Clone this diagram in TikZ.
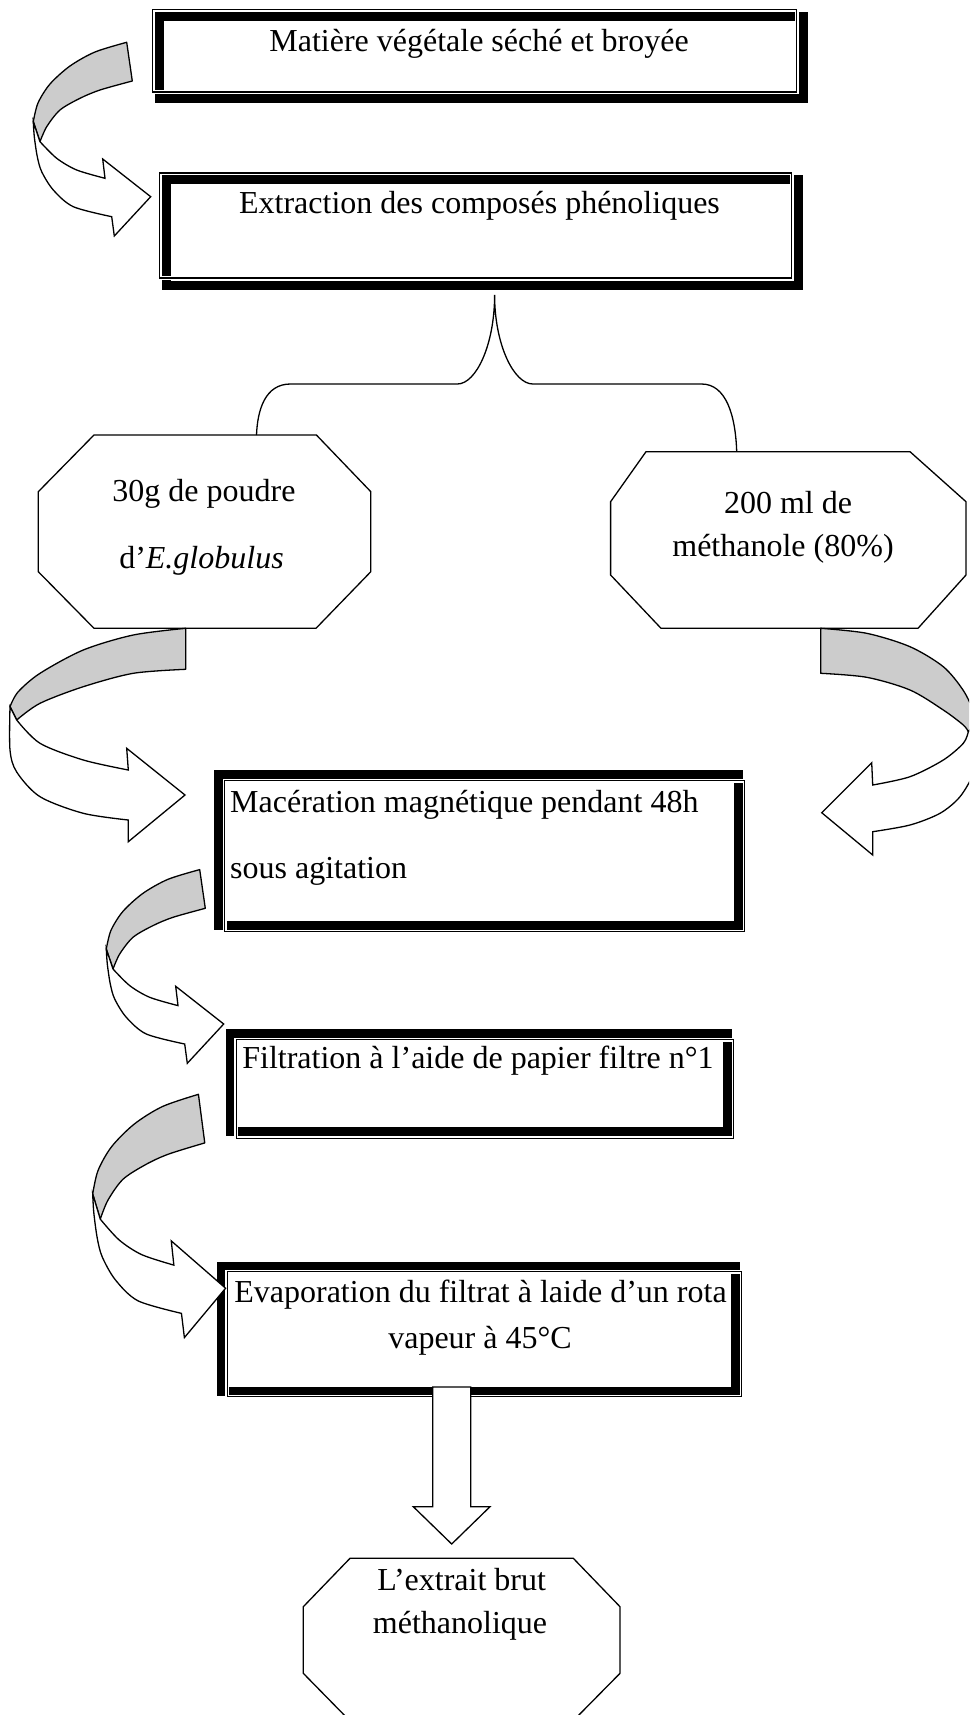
\documentclass[tikz,border=0pt]{standalone}
\usepackage{fontspec}
\setmainfont{Liberation Serif}
\newcommand\ribbonA{%
  \draw[ribbonback] plot[smooth] coordinates {(126.7,42.3) (95,52) (70,66) (50,84) (38,103) (33.3,121.7)}
    -- (40,141.7) -- plot[smooth] coordinates {(40,141.7) (46.7,126.7) (60,110) (80,98.3) (100,90) (132.3,81)} -- cycle;
  \draw[ribbonfront] (33.3,121.7) -- (40,141.7)
    -- plot[smooth] coordinates {(40,141.7) (56.7,158.3) (76.7,170) (105,178.3)}
    -- (102.7,159) -- (150.7,196.7) -- (114.3,236)
    -- plot[smooth] coordinates {(111.7,216.7) (73.3,206.7) (53.3,190) (41.7,171.7) (37.3,156.7) (34.3,136.7) (33.3,121.7)} -- cycle;}
\newcommand\dblbox[3]{%
  \draw[band] ([shift={(#2,#3)}]#1.north west) rectangle ([shift={(#2,#3)}]#1.south east);
  \draw[halo] (#1.north west) rectangle (#1.south east);
  \draw[thinline] (#1.north west) rectangle (#1.south east);}
\begin{document}
\begin{tikzpicture}[x=1pt,y=-1pt,
  txt/.style={anchor=base,inner sep=0pt,font=\fontsize{32}{38}\selectfont},
  band/.style={draw=black,line width=9pt},
  halo/.style={draw=white,line width=4pt},
  thinline/.style={draw=black,line width=1.3pt},
  frame/.style={draw=none,inner sep=0pt,outer sep=0pt},
  ribbonback/.style={draw=black,line width=1.3pt,fill=black!20,line join=round},
  ribbonfront/.style={draw=black,line width=1.3pt,fill=white,line join=miter},
  outline/.style={draw=black,line width=1.3pt,fill=white},
]
\useasboundingbox (0,0) rectangle (969,1715);
\clip (0,0) rectangle (969,1715);
\fill[white] (0,0) rectangle (969,1715);

% ---- boxes (thin frames as nodes) ----
\node[frame,minimum width=644,minimum height=82.5] (b1) at (474.5,50.75) {};
\node[frame,minimum width=632.2,minimum height=105] (b2) at (475.6,225.5) {};
\node[frame,minimum width=520,minimum height=151.2] (b3) at (484.5,856.1) {};
\node[frame,minimum width=497.2,minimum height=98.5] (b4) at (485,1089) {};
\node[frame,minimum width=514.2,minimum height=125] (b5) at (484.5,1334.2) {};
\dblbox{b1}{7}{7}
\dblbox{b2}{6.5}{7}
\dblbox{b3}{-6.5}{-6.3}
\dblbox{b4}{-6.4}{-6.5}
\dblbox{b5}{-6}{-5.7}

% ---- octagons ----
\draw[outline] (94,435) -- (316.4,435) -- (370.8,491.7) -- (370.8,571.7) -- (316,628.3) -- (94,628.3) -- (38.3,571.7) -- (38.3,491.7) -- cycle;
\draw[outline] (646,451.7) -- (910,451.7) -- (966,501.7) -- (966,575) -- (918,628.3) -- (661,628.3) -- (610.6,575) -- (610.6,501.7) -- cycle;
\draw[outline] (350,1558.3) -- (573.3,1558.3) -- (620,1606.7) -- (620,1673.3) -- (571,1723) -- (352,1723) -- (303.3,1673.3) -- (303.3,1606.7) -- cycle;

% ---- brace ----
\coordinate (brtop) at (494.6,295);
\coordinate (brL) at (256.5,435);
\coordinate (brR) at (736.7,451.7);
\draw[thinline] (brL) .. controls (257.5,410) and (265,384) .. (290.5,384) -- (457.4,384)
  .. controls (476,384) and (494.6,345) .. (brtop)
  .. controls (494.6,345) and (514,384) .. (532.8,384) -- (701.5,384)
  .. controls (726,384) and (735.5,415) .. (brR);

% ---- curved arrows ----
\ribbonA
\begin{scope}[shift={(73,827.3)}]\ribbonA\end{scope}

% big left arrow
\draw[ribbonback] plot[smooth] coordinates {(185.7,628.3) (133.3,635) (83.3,650) (40,673.3) (18,692) (10,706.7)}
  -- (16.7,720) -- plot[smooth] coordinates {(16.7,720) (40,703.3) (83.3,686.7) (133.3,673.3) (185.7,669.3)} -- cycle;
\draw[ribbonfront] (10,706.7) -- (16.7,720)
  -- plot[smooth] coordinates {(16.7,720) (40,743.3) (83.3,760) (128.3,770)}
  -- (126.7,748.3) -- (185,795) -- (128.3,841.7)
  -- plot[smooth] coordinates {(128.3,820) (83.3,813.3) (40,796.7) (16.7,772) (10,750) (10,706.7)} -- cycle;

% right arrow
\draw[ribbonback] plot[smooth] coordinates {(820.7,628.3) (866.7,633.3) (910,646.7) (943.3,666.7) (963,690) (974,712) (976,722)}
  -- (968.3,731.7) -- plot[smooth] coordinates {(968.3,731.7) (963.3,725) (943.3,710) (910,690) (866.7,677.3) (820.7,673.3)} -- cycle;
\draw[ribbonfront] (976,722) -- (968.3,731.7)
  -- plot[smooth] coordinates {(968.3,731.7) (963.3,743.3) (943.3,760) (910,776.7) (872.7,785)}
  -- (871.7,762.7) -- (821.7,812.7) -- (872.7,855)
  -- plot[smooth] coordinates {(872.7,831.7) (910,825) (940,813.3) (960,796.7) (974,772) (978,745) (976,722)} -- cycle;

\begin{scope}[shift={(92.7,1094.3)},xscale=1.132,yscale=1.256,shift={(-33.3,-42.3)}]\ribbonA\end{scope}

% ---- down arrow ----
\coordinate (dtop) at (451.7,1387);
\coordinate (dtip) at (451.7,1544);
\draw[outline] ([shift={(-19,0)}]dtop) -- ([shift={(-19,-37.3)}]dtip) -- ([shift={(-38.4,-37.3)}]dtip) -- (dtip)
  -- ([shift={(38.3,-37.3)}]dtip) -- ([shift={(19,-37.3)}]dtip) -- ([shift={(19,0)}]dtop) -- cycle;

% ---- texts ----
\node[txt] (t1) at (479,52) {Matière végétale séché et broyée};
\node[txt] (t2) at (479.5,213) {Extraction des composés phénoliques};
\node[txt] (t3a) at (204,501.7) {30g de poudre};
\node[txt] (t3b) at (201.5,568.3) {d’\textit{E.globulus}};
\node[txt] (t4a) at (788,513.3) {200 ml de};
\node[txt] (t4b) at (783,556) {méthanole (80\%)};
\node[txt,anchor=base west] (t5a) at (230,812) {Macération magnétique pendant 48h};
\node[txt,anchor=base west] (t5b) at (230,878) {sous agitation};
\node[txt] (t6) at (478,1068) {Filtration à l’aide de papier filtre n°1};
\node[txt] (t7a) at (480.5,1302) {Evaporation du filtrat à laide d’un rota};
\node[txt] (t7b) at (480,1348) {vapeur à 45°C};
\node[txt] (t8a) at (461.7,1590) {L’extrait brut};
\node[txt] (t8b) at (460,1633) {méthanolique};
\end{tikzpicture}
\end{document}
